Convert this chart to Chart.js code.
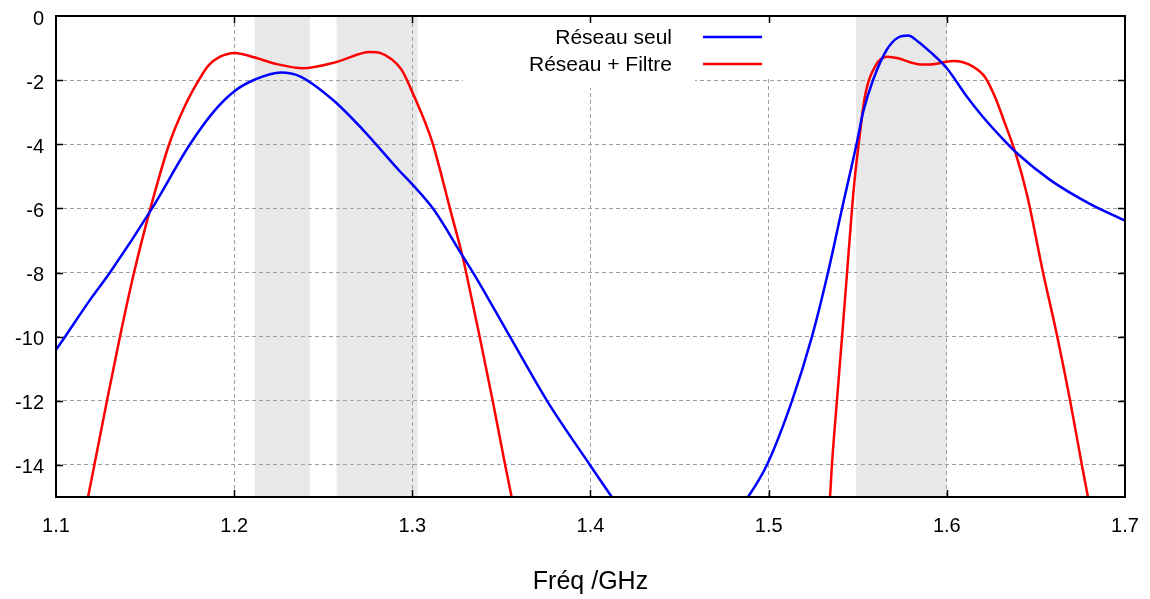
<!DOCTYPE html>
<html>
<head>
<meta charset="utf-8">
<script src="https://cdn.jsdelivr.net/npm/chart.js@4/dist/chart.umd.min.js"></script>
<style>
  html, body { margin: 0; padding: 0; background: #ffffff; }
  #wrap { width: 1150px; height: 599px; }
</style>
</head>
<body>
<div id="wrap"><canvas id="c" width="1150" height="599"></canvas></div>
<script>
// ---- data ----
const seriesLabels = ['Réseau seul', 'Réseau + Filtre'];
const xTitle = 'Fréq /GHz';
const xTicks = [1.1, 1.2, 1.3, 1.4, 1.5, 1.6, 1.7];
const yTicks = [-14, -12, -10, -8, -6, -4, -2, 0];
const filterBands = [[1.2115, 1.2425], [1.2575, 1.303], [1.549, 1.6]];

const freqBlue = [1.100, 1.1051, 1.119, 1.1303, 1.1539, 1.1752, 1.189, 1.2005, 1.2117, 1.2262,
  1.2369, 1.2555, 1.2723, 1.2931, 1.300, 1.3122, 1.3284, 1.3346, 1.3548, 1.3756,
  1.3997, 1.412, 1.425, 1.475, 1.4884, 1.499, 1.5131, 1.5243, 1.5333, 1.5412,
  1.5493, 1.5531, 1.5587, 1.5662, 1.5727, 1.5783, 1.5839, 1.5905, 1.600, 1.6113,
  1.6203, 1.630, 1.6394, 1.6579, 1.680, 1.700];
const gainBlue = [-10.41, -10.0, -8.86, -8.0, -6.0, -4.0, -2.95, -2.33, -1.98, -1.76,
  -1.88, -2.62, -3.55, -4.85, -5.25, -6.05, -7.5, -8.05, -10.0, -12.0,
  -14.0, -15.0, -16.0, -16.0, -15.0, -14.0, -12.0, -10.0, -8.0, -6.0,
  -4.0, -2.98, -1.98, -1.06, -0.67, -0.61, -0.8, -1.11, -1.63, -2.52,
  -3.15, -3.75, -4.28, -5.11, -5.85, -6.38];

const freqRed = [1.110, 1.118, 1.1286, 1.1359, 1.1438, 1.153, 1.1635, 1.1724, 1.1808, 1.1855,
  1.1921, 1.2005, 1.2106, 1.224, 1.2386, 1.2577, 1.2762, 1.2818, 1.2884, 1.294,
  1.3009, 1.3088, 1.3116, 1.3165, 1.3211, 1.3282, 1.3302, 1.3378, 1.3451, 1.3521,
  1.3557, 1.362, 1.528, 1.5344, 1.5355, 1.5383, 1.5412, 1.544, 1.5468, 1.5485,
  1.5505, 1.554, 1.5602, 1.5666, 1.5727, 1.5793, 1.5849, 1.5905, 1.6034, 1.6091,
  1.6147, 1.6214, 1.627, 1.6326, 1.6386, 1.6451, 1.654, 1.6618, 1.6691, 1.6758,
  1.6792, 1.686];
const gainRed = [-17.1, -15.0, -12.0, -10.0, -8.0, -6.0, -4.0, -2.8, -1.94, -1.55,
  -1.27, -1.15, -1.28, -1.5, -1.63, -1.43, -1.12, -1.15, -1.35, -1.68,
  -2.49, -3.55, -4.0, -5.0, -6.0, -7.5, -8.0, -10.0, -12.0, -14.0,
  -15.0, -17.0, -17.0, -15.0, -14.0, -12.0, -10.0, -8.0, -6.0, -4.96,
  -4.0, -2.52, -1.53, -1.27, -1.32, -1.44, -1.51, -1.51, -1.40, -1.44,
  -1.58, -1.9, -2.52, -3.35, -4.28, -5.6, -8.0, -9.95, -11.97, -14.0,
  -15.0, -17.0];

const seriesColors = ['#0000ff', '#ff0000'];
const FONT = '"Liberation Sans", Arial, Helvetica, sans-serif';

function toPoints(xs, ys) { return xs.map((x, i) => ({ x: x, y: ys[i] })); }

// gray bands behind the grid
const bandsPlugin = {
  id: 'bands',
  beforeDraw(chart) {
    const { ctx, chartArea: a, scales: { x } } = chart;
    ctx.save();
    ctx.fillStyle = '#e8e8e8';
    filterBands.forEach(([f0, f1]) => {
      const p0 = x.getPixelForValue(f0), p1 = x.getPixelForValue(f1);
      ctx.fillRect(p0, a.top, p1 - p0, a.bottom - a.top);
    });
    ctx.restore();
  }
};

// opaque key box (hides grid) + key drawing
const keyPlugin = {
  id: 'key',
  beforeDatasetsDraw(chart) {
    const ctx = chart.ctx;
    ctx.save();
    ctx.fillStyle = '#ffffff';
    ctx.fillRect(463, 17, 232, 71);
    ctx.fillRect(695, 17, 80, 62);
    ctx.restore();
  },
  afterDatasetsDraw(chart) {
    const ctx = chart.ctx;
    ctx.save();
    ctx.font = '21px ' + FONT;
    ctx.textAlign = 'right';
    ctx.textBaseline = 'middle';
    const rows = [37, 64];
    chart.data.datasets.forEach((ds, i) => {
      ctx.fillStyle = '#000000';
      ctx.fillText(ds.label, 672, rows[i] + 1);
      ctx.strokeStyle = ds.borderColor;
      ctx.lineWidth = 2.5;
      ctx.beginPath();
      ctx.moveTo(703, rows[i]);
      ctx.lineTo(762, rows[i]);
      ctx.stroke();
    });
    ctx.restore();
  }
};

// frame with inward ticks on all four sides
const framePlugin = {
  id: 'frame',
  afterDraw(chart) {
    const { ctx, chartArea: a, scales: { x, y } } = chart;
    ctx.save();
    ctx.strokeStyle = '#000000';
    ctx.lineWidth = 1.5;
    const L = 7;
    ctx.beginPath();
    xTicks.forEach(v => {
      const p = Math.round(x.getPixelForValue(v)) + 0.5;
      if (p <= a.left + 1 || p >= a.right - 1) return;
      ctx.moveTo(p, a.bottom); ctx.lineTo(p, a.bottom - L);
      ctx.moveTo(p, a.top); ctx.lineTo(p, a.top + L);
    });
    yTicks.forEach(v => {
      const p = Math.round(y.getPixelForValue(v)) + 0.5;
      if (p <= a.top + 1 || p >= a.bottom - 1) return;
      ctx.moveTo(a.left, p); ctx.lineTo(a.left + L, p);
      ctx.moveTo(a.right, p); ctx.lineTo(a.right - L, p);
    });
    ctx.stroke();
    ctx.lineWidth = 2;
    ctx.strokeRect(a.left, a.top, a.right - a.left, a.bottom - a.top);
    ctx.restore();
  }
};

new Chart(document.getElementById('c'), {
  type: 'line',
  data: {
    datasets: [
      { label: seriesLabels[0], data: toPoints(freqBlue, gainBlue), borderColor: seriesColors[0],
        borderWidth: 2.5, pointRadius: 0, cubicInterpolationMode: 'monotone', fill: false, clip: 0 },
      { label: seriesLabels[1], data: toPoints(freqRed, gainRed), borderColor: seriesColors[1],
        borderWidth: 2.5, pointRadius: 0, cubicInterpolationMode: 'monotone', fill: false, clip: 0 }
    ]
  },
  options: {
    responsive: false,
    animation: false,
    devicePixelRatio: 1,
    layout: { padding: { top: 16, right: 25, left: 0, bottom: 0 } },
    plugins: { legend: { display: false }, tooltip: { enabled: false } },
    scales: {
      x: {
        type: 'linear', min: 1.1, max: 1.7,
        afterFit: s => { s.height = 102; s.paddingLeft = 0; s.paddingRight = 0; },
        afterBuildTicks: s => { s.ticks = xTicks.map(v => ({ value: v })); },
        grid: { color: '#a0a0a0', lineWidth: 1, drawTicks: false },
        border: { display: false, dash: [4, 3] },
        ticks: { color: '#000000', font: { family: FONT, size: 20 }, padding: 17, maxRotation: 0,
          callback: v => v.toFixed(1) },
        title: { display: true, text: xTitle, color: '#000000', font: { family: FONT, size: 25 },
          padding: { top: 0, bottom: 2 } }
      },
      y: {
        type: 'linear', min: -15, max: 0,
        afterFit: s => { s.width = 56; s.paddingTop = 0; s.paddingBottom = 0; },
        afterBuildTicks: s => { s.ticks = yTicks.map(v => ({ value: v })); },
        grid: { color: '#a0a0a0', lineWidth: 1, drawTicks: false },
        border: { display: false, dash: [4, 3] },
        ticks: { color: '#000000', font: { family: FONT, size: 20 }, padding: 12, labelOffset: 3,
          callback: v => String(v) }
      }
    }
  },
  plugins: [bandsPlugin, keyPlugin, framePlugin]
});
</script>
</body>
</html>
